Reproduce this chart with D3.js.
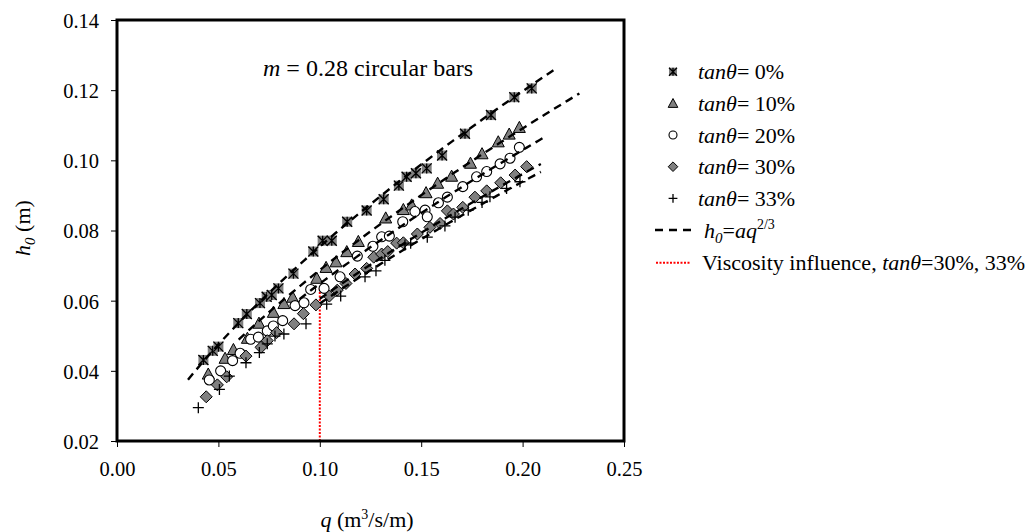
<!DOCTYPE html>
<html><head><meta charset="utf-8">
<script src="https://cdn.jsdelivr.net/npm/d3@7"></script>
<style>
body{margin:0;background:#fff}
svg{display:block}
text{font-family:"Liberation Serif","Times New Roman",serif;fill:#000}
</style>
</head><body>
<svg id="c" width="1028" height="532"></svg>
<script>
// ---------- data ----------
const seriesLabels = ["0%", "10%", "20%", "30%", "33%"];
const xTicks = [0, 0.05, 0.10, 0.15, 0.20, 0.25];
const yTicks = [0.02, 0.04, 0.06, 0.08, 0.10, 0.12, 0.14];

const q0 = [0.0426,0.0472,0.0500,0.0598,0.0640,0.0705,0.0738,0.0763,0.0796,0.0870,0.0968,0.1014,0.1059,0.1135,0.1231,0.1315,0.1390,0.1428,0.1474,0.1527,0.1603,0.1716,0.1844,0.1959,0.2045];
const h0 = [0.0431,0.0457,0.0469,0.0536,0.0562,0.0593,0.0611,0.0616,0.0635,0.0677,0.0740,0.0771,0.0771,0.0825,0.0857,0.0889,0.0928,0.0953,0.0963,0.0977,0.1014,0.1076,0.1129,0.1180,0.1205];

const q10 = [0.0450,0.0533,0.0574,0.0643,0.0700,0.0771,0.0823,0.0866,0.0985,0.1031,0.1080,0.1133,0.1190,0.1325,0.1412,0.1453,0.1524,0.1581,0.1650,0.1743,0.1800,0.1880,0.1934,0.1984];
const h10 = [0.0391,0.0436,0.0461,0.0493,0.0536,0.0567,0.0592,0.0610,0.0664,0.0695,0.0711,0.0740,0.0769,0.0836,0.0860,0.0873,0.0908,0.0935,0.0955,0.0992,0.1019,0.1053,0.1075,0.1094];

const q20 = [0.0455,0.0511,0.0570,0.0607,0.0659,0.0697,0.0741,0.0771,0.0817,0.0878,0.0922,0.0955,0.1021,0.1100,0.1185,0.1262,0.1305,0.1343,0.1409,0.1469,0.1519,0.1530,0.1585,0.1629,0.1705,0.1773,0.1823,0.1889,0.1938,0.1984];
const h20 = [0.0374,0.0400,0.0429,0.0450,0.0490,0.0496,0.0514,0.0528,0.0543,0.0586,0.0594,0.0632,0.0635,0.0668,0.0727,0.0755,0.0782,0.0784,0.0825,0.0854,0.0858,0.0839,0.0879,0.0895,0.0925,0.0953,0.0968,0.0990,0.1006,0.1037];

const q30 = [0.0440,0.0495,0.0541,0.0636,0.0710,0.0741,0.0787,0.0873,0.0919,0.0981,0.1047,0.1086,0.1129,0.1174,0.1231,0.1266,0.1305,0.1335,0.1379,0.1412,0.1481,0.1543,0.1593,0.1629,0.1659,0.1705,0.1765,0.1823,0.1892,0.1963,0.2020];
const h30 = [0.0326,0.0360,0.0383,0.0442,0.0467,0.0486,0.0509,0.0534,0.0563,0.0588,0.0613,0.0630,0.0649,0.0676,0.0692,0.0724,0.0733,0.0740,0.0764,0.0765,0.0790,0.0809,0.0820,0.0856,0.0847,0.0866,0.0895,0.0913,0.0936,0.0958,0.0982];

const q33 = [0.0401,0.0505,0.0554,0.0636,0.0702,0.0741,0.0779,0.0823,0.0932,0.1034,0.1103,0.1223,0.1277,0.1321,0.1420,0.1448,0.1530,0.1617,0.1667,0.1732,0.1800,0.1839,0.1921,0.1987];
const h33 = [0.0295,0.0347,0.0385,0.0423,0.0452,0.0477,0.0499,0.0505,0.0534,0.0590,0.0613,0.0668,0.0685,0.0715,0.0759,0.0764,0.0781,0.0813,0.0838,0.0858,0.0880,0.0896,0.0920,0.0939];

// fitted curves h0 = a q^(2/3): coefficient and q-range for each slope
const fitA     = [0.350, 0.319, 0.301, 0.281, 0.2746];
const fitStart = [0.035, 0.060, 0.090, 0.100, 0.100];
const fitEnd   = [0.217, 0.228, 0.210, 0.209, 0.209];

// viscosity influence marker line
const viscQ = 0.10;
const viscH = [0.02, 0.0635];

// ---------- layout ----------
const svg = d3.select("#c");
const L = 117, R = 624, T = 20, B = 441;
const x = d3.scaleLinear().domain([0, 0.25]).range([L, R]);
const y = d3.scaleLinear().domain([0.02, 0.14]).range([B, T]);
const GRAY = "#808080";

const allQ = [q0, q10, q20, q30, q33];
const allH = [h0, h10, h20, h30, h33];

// ---------- marker drawers ----------
function drawMarker(g, type, s) {
  // s: scale factor
  if (type === 0) {
    const a = 5 * s;
    g.append("rect").attr("x", -a).attr("y", -a).attr("width", 2 * a).attr("height", 2 * a)
      .attr("fill", GRAY);
    g.append("path").attr("d", `M${-a},${-a}L${a},${a}M${-a},${a}L${a},${-a}M0,${-a}L0,${a}`)
      .attr("stroke", "#000").attr("stroke-width", 1.3).attr("fill", "none");
  } else if (type === 1) {
    const w = 6 * s, h = 6 * s;
    g.append("path").attr("d", `M0,${-h}L${w},${h * 0.85}L${-w},${h * 0.85}Z`)
      .attr("fill", GRAY).attr("stroke", "#000").attr("stroke-width", 1);
  } else if (type === 2) {
    g.append("circle").attr("r", 5 * s).attr("fill", "#fff").attr("stroke", "#000").attr("stroke-width", 1.1);
  } else if (type === 3) {
    const a = 6 * s;
    g.append("path").attr("d", `M0,${-a}L${a},0L0,${a}L${-a},0Z`)
      .attr("fill", GRAY).attr("stroke", "#000").attr("stroke-width", 1);
  } else {
    const a = 5.5 * s;
    g.append("path").attr("d", `M${-a},0L${a},0M0,${-a}L0,${a}`)
      .attr("stroke", "#000").attr("stroke-width", 1.3).attr("fill", "none");
  }
}

// ---------- axes ----------
const fmt = d3.format(".2f");
const xAxis = svg.append("g").attr("transform", `translate(0,${B})`)
  .call(d3.axisBottom(x).tickValues(xTicks).tickFormat(fmt).tickSize(6).tickPadding(8));
const yAxis = svg.append("g").attr("transform", `translate(${L},0)`)
  .call(d3.axisLeft(y).tickValues(yTicks).tickFormat(fmt).tickSize(6).tickPadding(12));
[xAxis, yAxis].forEach(a => {
  a.select(".domain").remove();
  a.selectAll("line").attr("stroke", "#000").attr("stroke-width", 1);
  a.selectAll("text").style("font-family", '"Liberation Serif","Times New Roman",serif')
    .style("font-size", "20.5px").attr("fill", "#000");
});
xAxis.selectAll("text").attr("dy", "0.71em").attr("y", 20);
yAxis.selectAll("text").attr("dy", "0.36em");

// ---------- viscosity line ----------
svg.append("line")
  .attr("x1", x(viscQ)).attr("x2", x(viscQ))
  .attr("y1", y(viscH[0])).attr("y2", y(viscH[1]))
  .attr("stroke", "#ff0000").attr("stroke-width", 2).attr("stroke-dasharray", "2,1.5");

// ---------- markers ----------
allQ.forEach((qs, si) => {
  const g = svg.append("g");
  qs.forEach((q, i) => {
    const m = g.append("g").attr("transform", `translate(${x(q)},${y(allH[si][i])})`);
    drawMarker(m, si, 1);
  });
});

// ---------- fitted lines ----------
const line = d3.line().x(d => x(d[0])).y(d => y(d[1]));
fitA.forEach((a, i) => {
  const pts = d3.range(0, 61).map(k => {
    const q = fitStart[i] + (fitEnd[i] - fitStart[i]) * k / 60;
    return [q, a * Math.pow(q, 2 / 3)];
  });
  svg.append("path").attr("d", line(pts)).attr("fill", "none")
    .attr("stroke", "#000").attr("stroke-width", 2.4).attr("stroke-dasharray", "8,5.5");
});

// ---------- frame ----------
svg.append("rect").attr("x", L).attr("y", T).attr("width", R - L).attr("height", B - T)
  .attr("fill", "none").attr("stroke", "#000").attr("stroke-width", 3);

// ---------- annotation ----------
const ann = svg.append("text").attr("x", 263).attr("y", 76).style("font-size", "24px");
ann.append("tspan").style("font-style", "italic").text("m");
ann.append("tspan").text(" = 0.28 circular bars");

// ---------- axis titles ----------
const xt = svg.append("text").attr("x", 367).attr("y", 527).attr("text-anchor", "middle").style("font-size", "22px");
xt.append("tspan").style("font-style", "italic").text("q");
xt.append("tspan").text(" (m");
xt.append("tspan").attr("dy", -8).style("font-size", "14px").text("3");
xt.append("tspan").attr("dy", 8).text("/s/m)");

const yt = svg.append("text").attr("transform", `translate(30,228) rotate(-90)`).attr("text-anchor", "middle").style("font-size", "22px");
yt.append("tspan").style("font-style", "italic").text("h");
yt.append("tspan").attr("dy", 5).style("font-style", "italic").style("font-size", "15px").text("0");
yt.append("tspan").attr("dy", -5).text(" (m)");

// ---------- legend ----------
const legY = [71.7, 103.3, 135, 166.7, 198.3, 230, 262.7];
const lx = 673, tx = 698;
seriesLabels.forEach((lab, i) => {
  const m = svg.append("g").attr("transform", `translate(${lx},${legY[i]})`);
  drawMarker(m, i, 0.8);
  const t = svg.append("text").attr("x", tx).attr("y", legY[i] + 7.5).style("font-size", "22px");
  t.append("tspan").style("font-style", "italic").text("tanθ");
  t.append("tspan").text("= " + lab);
});
svg.append("line").attr("x1", 655).attr("x2", 692).attr("y1", legY[5]).attr("y2", legY[5])
  .attr("stroke", "#000").attr("stroke-width", 2.4).attr("stroke-dasharray", "8,6");
const ft = svg.append("text").attr("x", 704).attr("y", legY[5] + 7.5).style("font-size", "22px");
ft.append("tspan").style("font-style", "italic").text("h");
ft.append("tspan").attr("dy", 5).style("font-style", "italic").style("font-size", "15px").text("0");
ft.append("tspan").attr("dy", -5).text("=");
ft.append("tspan").style("font-style", "italic").text("aq");
ft.append("tspan").attr("dy", -9).style("font-size", "14px").text("2/3");

svg.append("line").attr("x1", 656).attr("x2", 690).attr("y1", legY[6]).attr("y2", legY[6])
  .attr("stroke", "#ff0000").attr("stroke-width", 2).attr("stroke-dasharray", "2,1.5");
const vt = svg.append("text").attr("x", 702).attr("y", legY[6] + 7.5).style("font-size", "22px");
vt.append("tspan").text("Viscosity influence, ");
vt.append("tspan").style("font-style", "italic").text("tanθ");
vt.append("tspan").text("=30%, 33%");
</script>
</body></html>
